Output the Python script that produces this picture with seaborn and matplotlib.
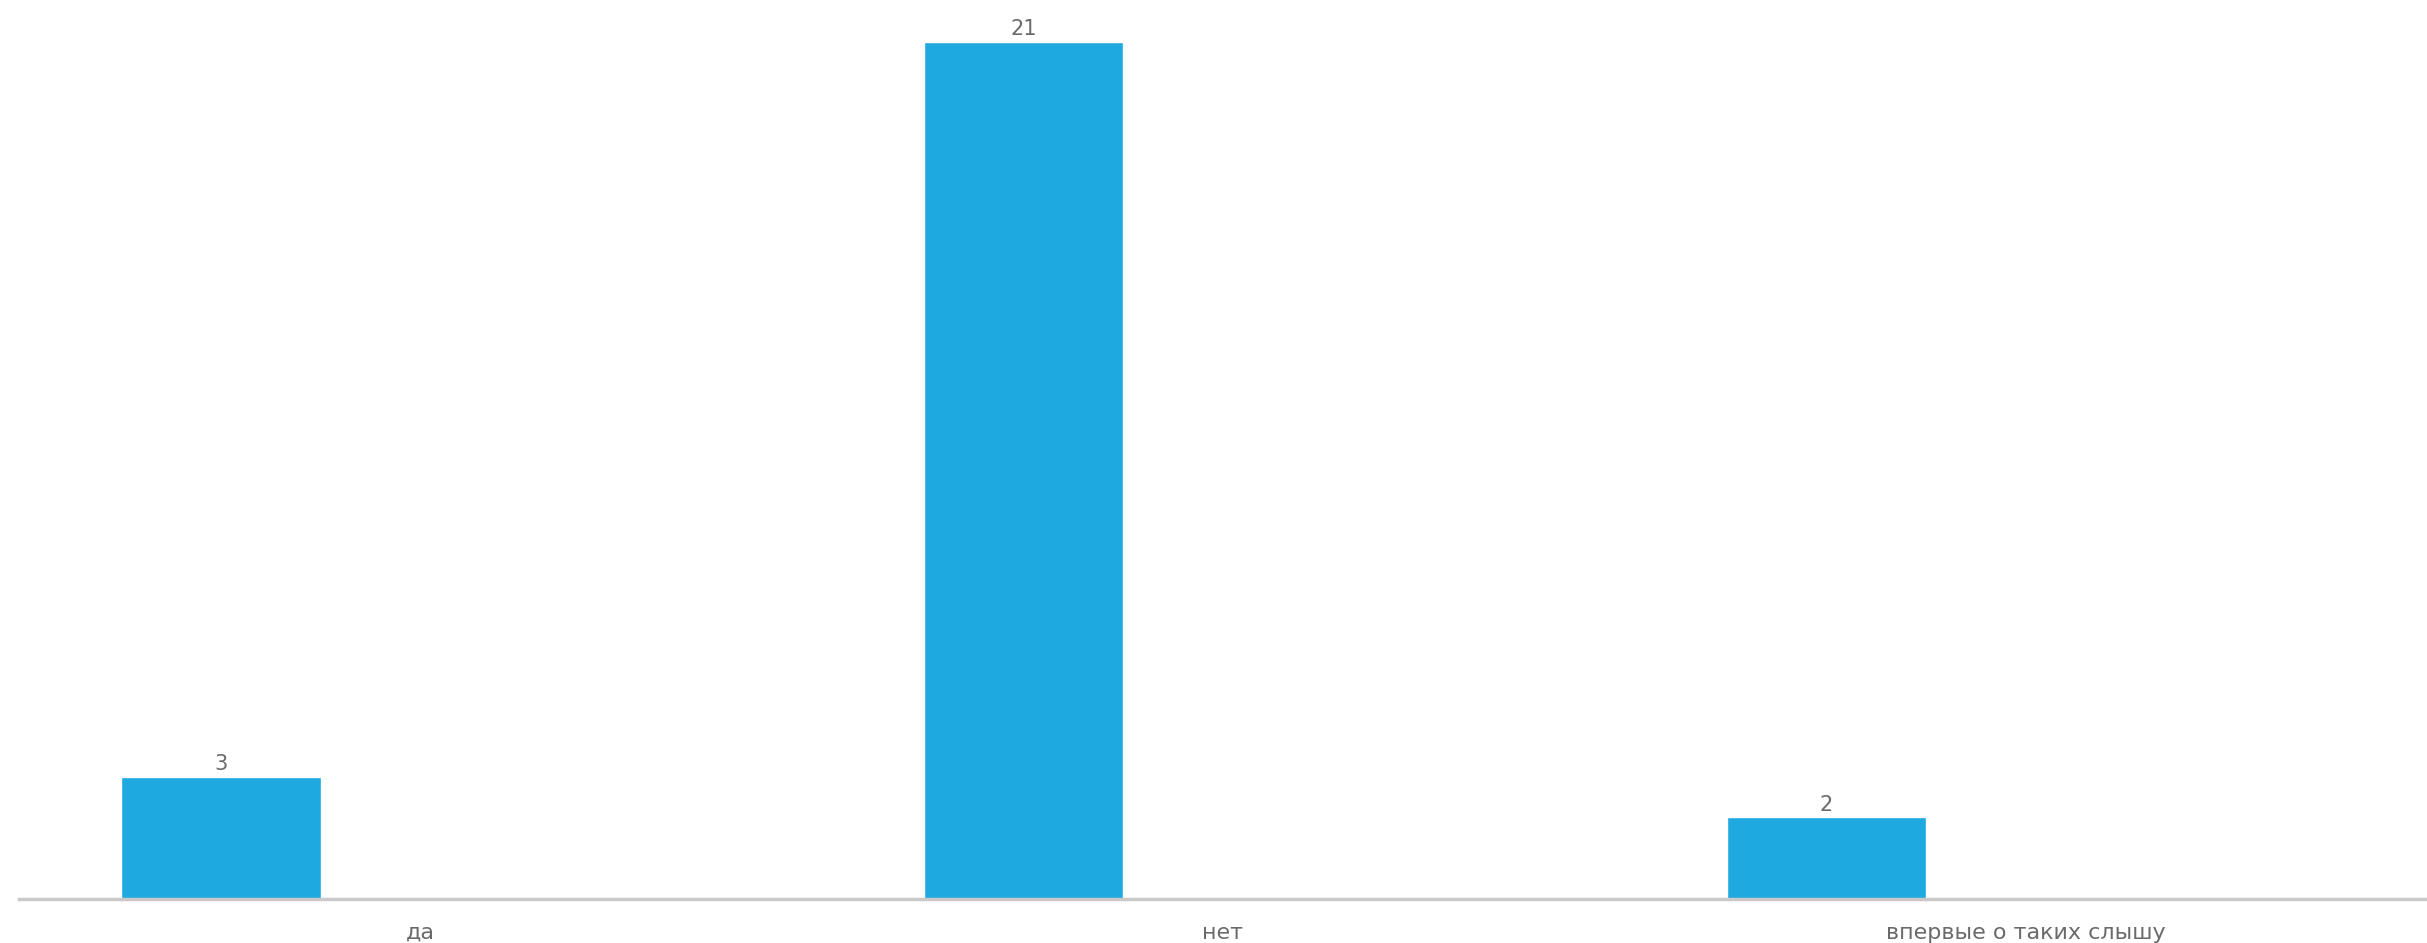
import matplotlib
matplotlib.use("Agg")
import matplotlib.pyplot as plt
import seaborn as sns
import pandas as pd

# Survey answers and their counts
categories = ["да", "нет", "впервые о таких слышу"]
counts = [3, 21, 2]
series_name = "Ответы"
# the answer series sits in the first of three slots inside each category band
slot_order = [series_name, "_slot2", "_slot3"]

bar_color = "#1fa9e1"
text_color = "#6a6a6a"
axis_color = "#c9c9c9"

df = pd.DataFrame({"answer": categories, "count": counts, "series": series_name})

sns.set_theme(style="white")
plt.rcParams["font.family"] = ["DejaVu Sans"]

fig = plt.figure(figsize=(24.27, 9.43), dpi=100)
ax = fig.add_axes([0.0078, 0.0467, 0.9922, 0.952])

sns.barplot(
    data=df, x="answer", y="count", hue="series", hue_order=slot_order,
    order=categories, palette={series_name: bar_color, "_slot2": bar_color, "_slot3": bar_color},
    width=0.745, dodge=True, legend=False, ax=ax, saturation=1, errorbar=None,
)

for cont in ax.containers:
    if len(cont) and all(p is not None for p in cont.patches):
        ax.bar_label(cont, fmt="%d", padding=2, fontsize=15, color=text_color)

ax.set_xlim(-0.5, 2.5)
ax.set_ylim(0, 22)
ax.set_xlabel("")
ax.set_ylabel("")
ax.set_yticks([])
ax.tick_params(axis="x", length=0, pad=17, labelsize=16, colors=text_color)

for side in ["left", "right", "top"]:
    ax.spines[side].set_visible(False)
ax.spines["bottom"].set_color(axis_color)
ax.spines["bottom"].set_linewidth(2.5)

fig.savefig("out.png", dpi=100, facecolor="white")
